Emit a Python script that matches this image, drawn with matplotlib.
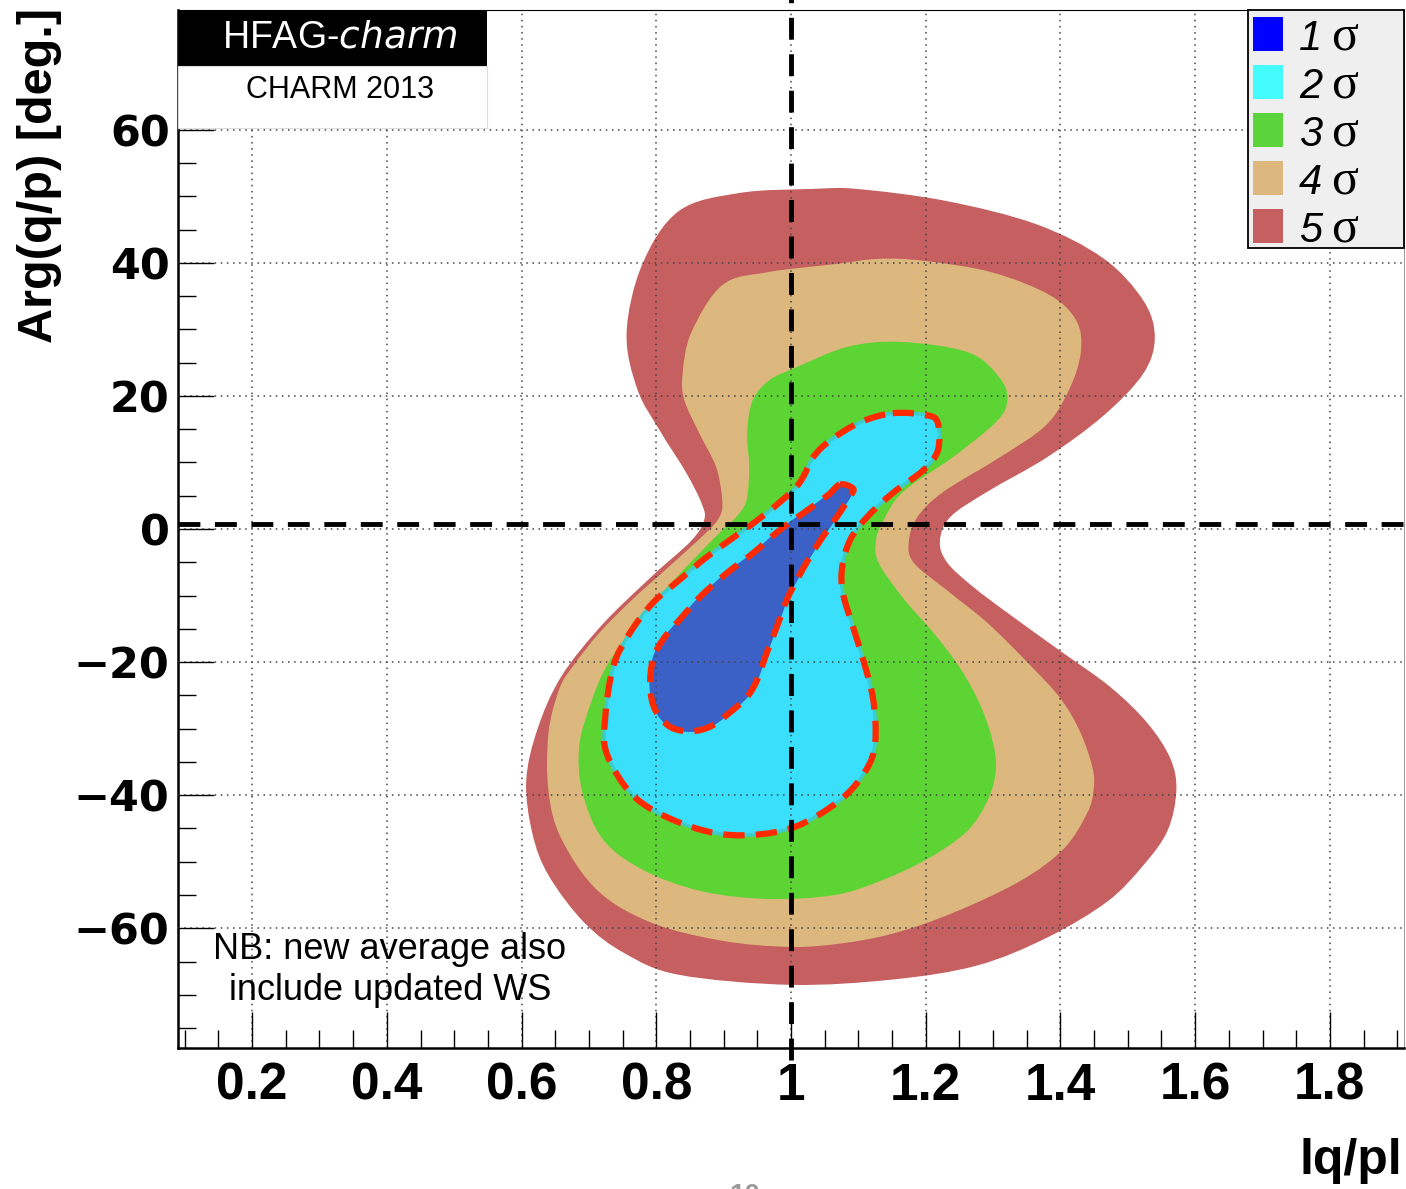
import matplotlib
matplotlib.use("Agg")
import matplotlib.pyplot as plt
from matplotlib.path import Path
from matplotlib.patches import PathPatch, Rectangle
from matplotlib.ticker import MultipleLocator, FuncFormatter
import numpy as np

# contour outlines: (|q/p|, arg(q/p) [deg])
sigma5_x = [1.031, 1.098, 1.230, 1.364, 1.463, 1.522, 1.539, 1.522, 1.463, 1.380, 1.291, 1.236,
            1.220, 1.231, 1.270, 1.325, 1.399, 1.473, 1.528, 1.562, 1.571, 1.558, 1.522, 1.469,
            1.380, 1.276, 1.151, 0.999, 0.834, 0.754, 0.694, 0.641, 0.617, 0.608, 0.625, 0.660,
            0.721, 0.794, 0.853, 0.872, 0.869, 0.846, 0.807, 0.773, 0.757, 0.780, 0.834, 0.924]
sigma5_y = [51.0, 51.0, 49.2, 45.7, 40.6, 34.3, 28.8, 23.4, 17.1, 10.9, 5.7, 1.9,
            -1.8, -5.1, -8.8, -13.0, -18.4, -23.8, -29.2, -34.5, -39.3, -45.3, -50.5, -55.9,
            -61.3, -65.5, -67.6, -68.4, -66.9, -63.7, -59.1, -52.0, -45.7, -37.8, -30.0, -22.2,
            -14.4, -7.2, -1.8, 1.3, 3.7, 8.4, 14.7, 21.0, 29.5, 39.7, 47.7, 50.4]

sigma4_x = [0.966, 1.065, 1.131, 1.197, 1.297, 1.383, 1.423, 1.429, 1.411, 1.377, 1.310, 1.226,
            1.187, 1.174, 1.181, 1.231, 1.291, 1.350, 1.399, 1.429, 1.447, 1.448, 1.439, 1.404,
            1.340, 1.240, 1.151, 1.073, 0.999, 0.899, 0.794, 0.714, 0.660, 0.641, 0.641, 0.657,
            0.677, 0.717, 0.766, 0.820, 0.875, 0.895, 0.899, 0.890, 0.865, 0.843, 0.840, 0.853,
            0.899]
sigma4_y = [38.5, 39.7, 40.5, 40.2, 38.5, 35.1, 31.2, 26.4, 20.8, 15.6, 10.9, 5.7,
            1.9, -1.8, -5.1, -9.3, -14.2, -20.1, -25.5, -30.7, -36.1, -39.3, -42.6, -48.0,
            -52.8, -57.6, -60.7, -62.2, -62.7, -61.8, -59.1, -54.3, -46.5, -39.4, -30.7, -24.1,
            -20.7, -15.6, -10.6, -5.7, -0.6, 1.8, 4.3, 9.3, 14.4, 19.3, 23.2, 29.5,
            36.6]

sigma3_x = [1.006, 1.085, 1.165, 1.264, 1.310, 1.320, 1.304, 1.240, 1.166, 1.136, 1.125, 1.129,
            1.166, 1.211, 1.251, 1.280, 1.298, 1.303, 1.292, 1.261, 1.202, 1.132, 1.065, 0.966,
            0.866, 0.780, 0.721, 0.691, 0.687, 0.706, 0.727, 0.761, 0.801, 0.846, 0.895, 0.920,
            0.935, 0.939, 0.936, 0.944, 0.969]
sigma3_y = [24.1, 27.3, 28.0, 26.4, 22.5, 19.3, 16.2, 10.9, 5.7, 1.3, -1.8, -5.1,
            -10.5, -15.7, -21.1, -26.5, -31.8, -36.1, -40.5, -45.3, -49.5, -52.8, -54.9, -55.5,
            -54.3, -51.1, -46.5, -39.4, -32.4, -25.6, -20.7, -15.6, -10.6, -5.7, -0.6, 1.8,
            4.3, 9.3, 14.4, 19.3, 22.3]

sigma2_x = [1.151, 1.202, 1.218, 1.218, 1.196, 1.151, 1.113, 1.088, 1.076, 1.077, 1.092, 1.107,
            1.122, 1.125, 1.111, 1.071, 0.999, 0.912, 0.834, 0.767, 0.727, 0.724, 0.736, 0.761,
            0.795, 0.835, 0.875, 0.924, 0.964, 1.003, 1.018, 1.033, 1.058, 1.102]
sigma2_y = [17.4, 17.1, 15.9, 11.8, 8.8, 5.4, 1.8, -1.6, -5.7, -9.6, -14.7, -19.6,
            -25.6, -32.1, -36.3, -40.9, -45.0, -46.0, -44.1, -40.2, -33.9, -28.6, -20.7, -15.6,
            -11.1, -7.6, -4.2, -0.6, 2.4, 5.8, 7.8, 10.8, 13.3, 16.0]

sigma1_x = [1.073, 1.092, 1.088, 1.068, 1.047, 1.028, 1.009, 0.994, 0.979, 0.964, 0.950, 0.935,
            0.909, 0.880, 0.850, 0.820, 0.798, 0.791, 0.795, 0.810, 0.835, 0.865, 0.905, 0.944,
            0.984, 1.024, 1.055]
sigma1_y = [6.7, 6.1, 4.9, 1.8, -1.2, -4.2, -7.6, -10.6, -14.7, -18.6, -22.6, -25.2,
            -27.6, -29.7, -30.4, -29.7, -27.1, -23.7, -19.6, -16.6, -13.6, -10.2, -6.6, -3.6,
            -0.1, 2.8, 5.1]

fill_colors = ["#c65f5f", "#dcb87e", "#5cd434", "#3adffc", "#3b60c6"]
legend_colors = ["#0000ff", "#44fcfc", "#5bd33a", "#dcb87e", "#c65f5f"]
legend_labels = ["1", "2", "3", "4", "5"]

ref_x = 1.0
ref_y = 0.8


def smooth_path(xs, ys):
    # closed Catmull-Rom curve through the traced points, as bezier segments
    p = np.column_stack([xs, ys])
    n = len(p)
    verts = [p[0]]
    codes = [Path.MOVETO]
    for i in range(n):
        p0, p1, p2, p3 = p[i - 1], p[i], p[(i + 1) % n], p[(i + 2) % n]
        verts += [p1 + (p2 - p0) / 6.0, p2 - (p3 - p1) / 6.0, p2]
        codes += [Path.CURVE4] * 3
    verts.append(p[0])
    codes.append(Path.CLOSEPOLY)
    return Path(verts, codes)


fig = plt.figure(figsize=(14.06, 11.89), dpi=100)
ax = fig.add_axes([178 / 1406, 1 - 1048 / 1189, 1226 / 1406, 1038 / 1189])

contours = [(sigma5_x, sigma5_y), (sigma4_x, sigma4_y), (sigma3_x, sigma3_y),
            (sigma2_x, sigma2_y), (sigma1_x, sigma1_y)]
for (cx, cy), col in zip(contours, fill_colors):
    ax.add_patch(PathPatch(smooth_path(cx, cy), facecolor=col, edgecolor=col, lw=1, zorder=1))
ax.add_patch(PathPatch(smooth_path(sigma2_x, sigma2_y), facecolor="none", edgecolor="#3ccccc",
                       lw=2.5, zorder=1.1))

# dashed red outlines
for cx, cy in [(sigma2_x, sigma2_y), (sigma1_x, sigma1_y)]:
    ax.add_patch(PathPatch(smooth_path(cx, cy), facecolor="none", edgecolor="#ff2a00",
                           lw=4.5, linestyle=(0, (3.4, 1.8)), zorder=5))

ax.axvline(ref_x, ymin=-0.012, ymax=1.012, color="black", lw=3.5, dashes=(4.5, 3), zorder=6,
           clip_on=False)
ax.axhline(ref_y, color="black", lw=3.5, dashes=(4.5, 3), zorder=6)

ax.set_xlim(0.09, 1.91)
ax.set_ylim(-78, 78)

ax.xaxis.set_major_locator(MultipleLocator(0.2))
ax.xaxis.set_minor_locator(MultipleLocator(0.05))
ax.yaxis.set_major_locator(MultipleLocator(20))
ax.yaxis.set_minor_locator(MultipleLocator(5))
ax.xaxis.set_major_formatter(FuncFormatter(lambda v, p: f"{v:g}"))
ax.yaxis.set_major_formatter(FuncFormatter(lambda v, p: f"{v:g}".replace("-", "\u2212")))

ax.tick_params(which="both", direction="in", top=False, right=False, width=1, color="black")
ax.tick_params(which="major", length=26)
ax.tick_params(which="minor", length=13)
ax.tick_params(axis="x", pad=10)
ax.tick_params(axis="y", pad=6)
for lab in ax.get_xticklabels():
    lab.set_fontfamily("Liberation Sans")
    lab.set_fontweight("bold")
    lab.set_fontsize(37)
for lab in ax.get_yticklabels():
    lab.set_fontfamily("DejaVu Sans")
    lab.set_fontweight("bold")
    lab.set_fontsize(31)

ax.set_axisbelow(False)
ax.grid(True, which="major", color="#444444", lw=1.1, linestyle=(0, (1, 3)), zorder=3)

ax.spines["left"].set_linewidth(1.8)
ax.spines["bottom"].set_linewidth(1.8)
ax.spines["top"].set_linewidth(0.8)
ax.spines["right"].set_linewidth(0.6)
ax.spines["right"].set_color("#888888")

# header boxes
fig.patches.append(Rectangle((178 / 1406, 1 - 66 / 1189), 309 / 1406, 56 / 1189,
                             transform=fig.transFigure, facecolor="black", zorder=10))
fig.patches.append(Rectangle((178 / 1406, 1 - 128 / 1189), 309 / 1406, 62 / 1189,
                             transform=fig.transFigure, facecolor="white",
                             edgecolor="#dddddd", lw=0.8, zorder=10))
fig.text(340 / 1406, 1 - 37 / 1189, "HFAG-$\\it{charm}$", color="white", fontsize=27,
         family="Liberation Sans", ha="center", va="center", zorder=11)
fig.text(340 / 1406, 1 - 90 / 1189, "CHARM 2013", color="black", fontsize=22,
         family="Liberation Sans", ha="center", va="center", zorder=11)

# legend
fig.patches.append(Rectangle((1248 / 1406, 1 - 248 / 1189), 156 / 1406, 238 / 1189,
                             transform=fig.transFigure, facecolor="#efefef",
                             edgecolor="black", lw=1.3, zorder=10))
for i, (col, lab) in enumerate(zip(legend_colors, legend_labels)):
    yc = 34 + 48 * i
    fig.patches.append(Rectangle((1253 / 1406, 1 - (yc + 17) / 1189), 30 / 1406, 34 / 1189,
                                 transform=fig.transFigure, facecolor=col,
                                 edgecolor="none", zorder=11))
    fig.text(1299 / 1406, 1 - (yc + 5) / 1189, lab, fontsize=30, style="italic",
             family="Liberation Sans", ha="left", va="center", zorder=12)
    fig.text(1331 / 1406, 1 - (yc + 3) / 1189, "\u03c3", fontsize=36,
             family="Liberation Serif", ha="left", va="center", zorder=12)

ax.text(390 / 1406, 1 - 970 / 1189, "NB: new average also\ninclude updated WS",
        transform=fig.transFigure, fontsize=26, family="Liberation Sans",
        ha="center", va="center", linespacing=1.2, zorder=8)

fig.text(1402 / 1406, 1 - 1161 / 1189, "lq/pl", fontsize=36, fontweight="bold",
         family="Liberation Sans", ha="right", va="center")
fig.text(40 / 1406, 1 - 8 / 1189, "Arg(q/p) [deg.]", fontsize=35, fontweight="bold",
         family="Liberation Sans", rotation=90, ha="center", va="top")
fig.text(745 / 1406, 1 - 1196 / 1189, "10", fontsize=20, fontweight="bold",
         color="#999999", family="Liberation Sans", ha="center", va="center")

fig.savefig("out.png", dpi=100)
